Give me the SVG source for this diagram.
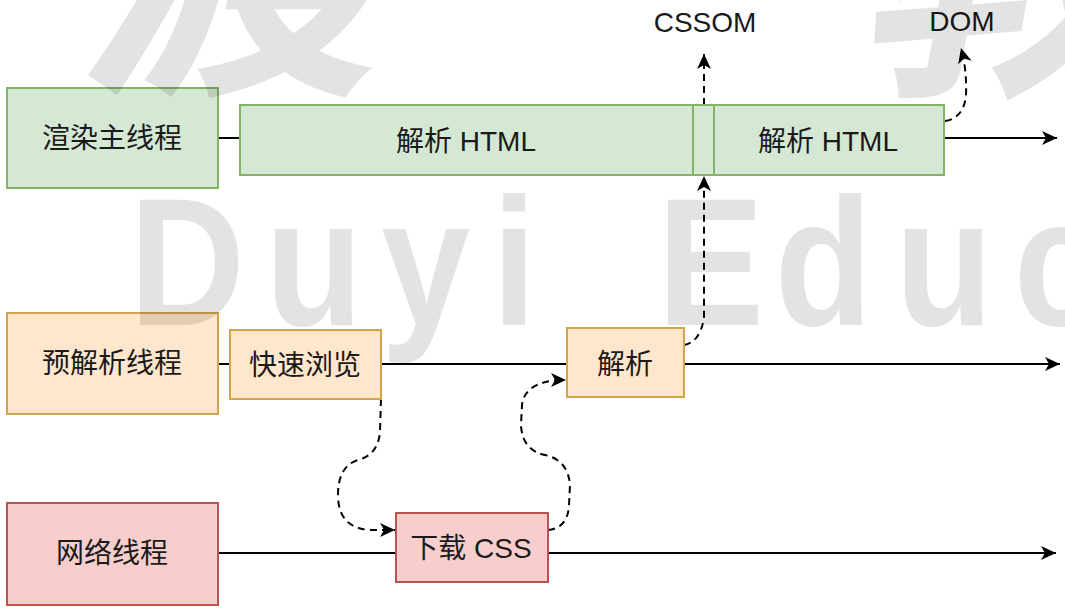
<svg xmlns="http://www.w3.org/2000/svg" width="1065" height="610" viewBox="0 0 1065 610">
  <style>
    .lbl { font-family: "Liberation Sans", "Noto Sans CJK SC", sans-serif; font-size: 28px; fill: #1a1a1a; text-anchor: middle; }
    .green { fill: #d5e8d4; stroke: #82b366; stroke-width: 2; }
    .orange { fill: #ffe6cc; stroke: #d2a54c; stroke-width: 2; }
    .red { fill: #f8cecc; stroke: #b85450; stroke-width: 2; }
    .line { fill: none; stroke: #000; stroke-width: 2; }
    .dash { fill: none; stroke: #000; stroke-width: 2; stroke-dasharray: 7 5; }
    .wm { font-family: "Liberation Sans", "Noto Sans CJK SC", sans-serif; fill: #000; fill-opacity: 0.11; }
  </style>
  <defs>
    <marker id="arr" markerUnits="userSpaceOnUse" markerWidth="16" markerHeight="14" refX="15" refY="7" orient="auto" viewBox="0 0 16 14">
      <path d="M0,0 L15,7 L0,14 L4,7 Z" fill="#000"/>
    </marker>
  </defs>
  <rect width="1065" height="610" fill="#ffffff"/>

  <g id="connectors">
    <line class="line" x1="218" y1="138" x2="240" y2="138"/>
    <line class="line" x1="944" y1="138" x2="1057" y2="138" marker-end="url(#arr)"/>
    <line class="line" x1="218" y1="364" x2="230" y2="364"/>
    <line class="line" x1="381" y1="364" x2="567" y2="364"/>
    <line class="line" x1="684" y1="364" x2="1060" y2="364" marker-end="url(#arr)"/>
    <line class="line" x1="218" y1="553" x2="396" y2="553"/>
    <line class="line" x1="548" y1="553" x2="1056" y2="553" marker-end="url(#arr)"/>
    <path class="dash" d="M704,105 L704,54" marker-end="url(#arr)"/>
    <path class="dash" d="M945,121 Q964,118 966,95 Q967,70 961,48" marker-end="url(#arr)"/>
    <path class="dash" d="M684,345 Q700,342 704,318 L704,176" marker-end="url(#arr)"/>
    <path class="dash" d="M381,399 L380,432 Q378,455 358,460 Q338,466 338,495 Q338,528 370,530 L395,530" marker-end="url(#arr)"/>
    <path class="dash" d="M548,530 Q568,528 569,505 L570,485 Q568,460 545,455 Q522,450 521,425 L522,405 Q525,380 566,380" marker-end="url(#arr)"/>
  </g>

  <g id="render-main">
    <rect class="green" x="7" y="88" width="211" height="100"/>
    <text class="lbl" x="112" y="148">渲染主线程</text>
  </g>
  <g id="parse-html-1">
    <rect class="green" x="240" y="105" width="453" height="70"/>
    <text class="lbl" x="466" y="151">解析 HTML</text>
  </g>
  <g id="parse-gap">
    <rect class="green" x="693" y="105" width="21" height="70"/>
  </g>
  <g id="parse-html-2">
    <rect class="green" x="714" y="105" width="230" height="70"/>
    <text class="lbl" x="828" y="151">解析 HTML</text>
  </g>
  <g id="cssom">
    <text class="lbl" x="705" y="32">CSSOM</text>
  </g>
  <g id="dom">
    <text class="lbl" x="962" y="31">DOM</text>
  </g>

  <g id="preparse">
    <rect class="orange" x="7" y="313" width="211" height="101"/>
    <text class="lbl" x="112" y="373">预解析线程</text>
  </g>
  <g id="quick-scan">
    <rect class="orange" x="230" y="330" width="151" height="69"/>
    <text class="lbl" x="305" y="375">快速浏览</text>
  </g>
  <g id="parse">
    <rect class="orange" x="567" y="328" width="117" height="69"/>
    <text class="lbl" x="625" y="374">解析</text>
  </g>

  <g id="network">
    <rect class="red" x="7" y="503" width="211" height="102"/>
    <text class="lbl" x="112" y="563">网络线程</text>
  </g>
  <g id="download-css">
    <rect class="red" x="396" y="513" width="152" height="69"/>
    <text class="lbl" x="471" y="558">下载 CSS</text>
  </g>

  <g id="watermark">
    <text class="wm" font-size="182" font-weight="bold" transform="scale(0.88,1)" x="147 301 433 559 590 747 880 1017 1152" y="325">Duyi Educ</text>
    <text class="wm" font-size="300" font-weight="bold" x="90 470 870 1250" y="72" transform="skewX(-10)">渡一教育</text>
  </g>
</svg>
